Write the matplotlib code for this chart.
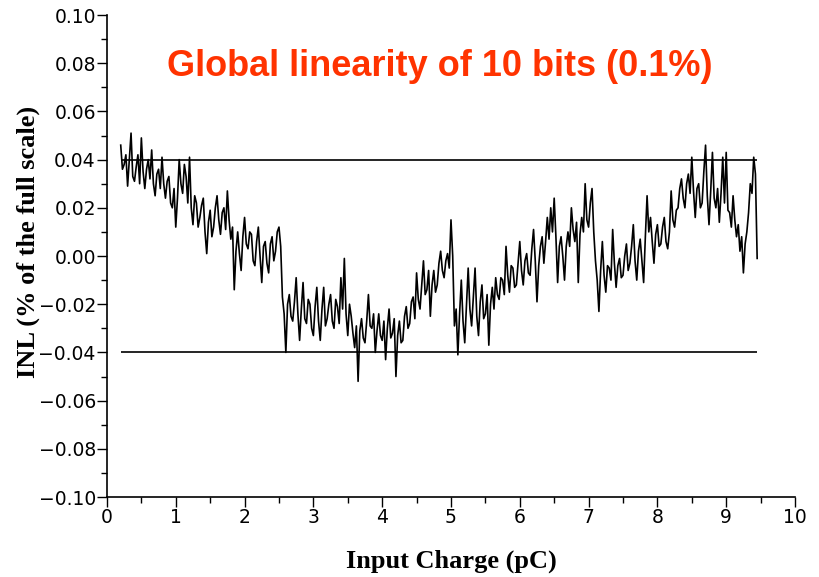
import numpy as np
import matplotlib
matplotlib.use("Agg")
import matplotlib.pyplot as plt
from matplotlib.ticker import MultipleLocator, FuncFormatter

# INL readings (% of full scale), one every 0.025 pC from 0.20 pC
charge_start = 0.20
charge_step = 0.025
inl = [
    0.046, 0.036, 0.038, 0.042, 0.029, 0.040, 0.051, 0.033, 0.031, 0.037,
    0.042, 0.030, 0.049, 0.035, 0.028, 0.036, 0.040, 0.032, 0.044, 0.030,
    0.025, 0.034, 0.036, 0.028, 0.041, 0.030, 0.024, 0.031, 0.033, 0.022,
    0.020, 0.028, 0.012, 0.024, 0.040, 0.030, 0.026, 0.038, 0.033, 0.022,
    0.041, 0.020, 0.013, 0.025, 0.022, 0.012, 0.016, 0.021, 0.024, 0.010,
    0.001, 0.014, 0.019, 0.008, 0.012, 0.020, 0.025, 0.015, 0.009, 0.018,
    0.020, 0.011, 0.027, 0.015, 0.007, 0.012, -0.014, 0.002, 0.010, 0.001,
    -0.006, 0.008, 0.016, 0.005, 0.003, 0.010, 0.009, -0.002, -0.004, 0.006,
    0.012, 0.000, -0.011, 0.004, 0.006, -0.003, -0.007, 0.005, 0.008, -0.002,
    0.002, 0.010, 0.012, 0.004, -0.017, -0.024, -0.040, -0.020, -0.016, -0.025,
    -0.027, -0.019, -0.009, -0.024, -0.035, -0.022, -0.011, -0.026, -0.028, -0.018,
    -0.020, -0.030, -0.033, -0.021, -0.013, -0.027, -0.035, -0.022, -0.013, -0.029,
    -0.026, -0.020, -0.016, -0.027, -0.030, -0.018, -0.021, -0.028, -0.009, -0.022,
    -0.001, -0.024, -0.033, -0.020, -0.025, -0.032, -0.038, -0.029, -0.052, -0.031,
    -0.026, -0.034, -0.036, -0.027, -0.016, -0.029, -0.030, -0.024, -0.040, -0.031,
    -0.024, -0.033, -0.035, -0.027, -0.043, -0.030, -0.022, -0.034, -0.032, -0.026,
    -0.050, -0.033, -0.027, -0.036, -0.035, -0.025, -0.021, -0.030, -0.028, -0.019,
    -0.017, -0.026, -0.007, -0.018, -0.022, -0.012, -0.002, -0.016, -0.014, -0.006,
    -0.025, -0.012, -0.006, -0.015, -0.012, -0.003, 0.002, -0.006, -0.009, -0.002,
    0.001, -0.005, 0.015, 0.000, -0.029, -0.022, -0.041, -0.024, -0.010, -0.027,
    -0.036, -0.020, -0.005, -0.022, -0.029, -0.017, -0.005, -0.025, -0.033, -0.019,
    -0.012, -0.026, -0.024, -0.016, -0.037, -0.020, -0.013, -0.022, -0.009, -0.016,
    -0.018, -0.009, -0.010, -0.016, 0.004, -0.008, -0.015, -0.004, -0.005, -0.013,
    -0.012, -0.003, 0.006, -0.006, -0.012, -0.002, 0.001, -0.007, -0.008, 0.003,
    0.011, -0.002, -0.019, -0.004, 0.004, 0.008, -0.003, 0.006, 0.016, 0.007,
    0.020, 0.010, 0.024, 0.008, -0.011, 0.004, 0.008, 0.000, -0.010, 0.004,
    0.010, 0.004, 0.020, 0.011, 0.006, 0.014, -0.011, 0.009, 0.016, 0.010,
    0.030, 0.015, 0.012, 0.022, 0.028, 0.010, -0.002, -0.010, -0.023, -0.006,
    0.006, -0.008, -0.015, -0.004, -0.005, -0.010, 0.011, -0.003, -0.013, -0.004,
    -0.001, -0.009, -0.008, 0.000, 0.005, -0.006, -0.003, 0.004, 0.013, -0.002,
    -0.010, 0.002, 0.007, -0.002, -0.011, 0.008, 0.025, 0.010, 0.016, 0.006,
    -0.003, 0.009, 0.013, 0.004, 0.005, 0.012, 0.016, 0.006, 0.003, 0.010,
    0.027, 0.015, 0.012, 0.019, 0.020, 0.028, 0.032, 0.024, 0.020, 0.030,
    0.034, 0.026, 0.041, 0.027, 0.016, 0.028, 0.030, 0.020, 0.022, 0.035,
    0.046, 0.025, 0.013, 0.027, 0.043, 0.024, 0.020, 0.028, 0.014, 0.026,
    0.041, 0.022, 0.043, 0.019, 0.018, 0.012, 0.025, 0.015, 0.008, 0.013,
    0.002, 0.008, -0.007, 0.005, 0.010, 0.018, 0.030, 0.026, 0.041, 0.034,
    -0.001,
]
charge = charge_start + charge_step * np.arange(len(inl))

limit = 0.04
limit_span = (0.2, 9.45)


def fmt_inl(v, pos):
    v = round(v, 3) + 0.0  # avoid "-0.00"
    return f"{v:.2f}".replace("-", "\u2212")


fig = plt.figure(figsize=(8.19, 5.77), dpi=100)
ax = fig.add_axes([0.1306, 0.1386, 0.8401, 0.8354])

ax.plot(charge, inl, color="black", lw=1.2)
ax.hlines([limit, -limit], limit_span[0], limit_span[1], color="black", lw=1.2)

ax.set_xlim(0, 10)
ax.set_ylim(-0.10, 0.10)
ax.xaxis.set_major_locator(MultipleLocator(1))
ax.xaxis.set_minor_locator(MultipleLocator(0.5))
ax.yaxis.set_major_locator(MultipleLocator(0.02))
ax.yaxis.set_minor_locator(MultipleLocator(0.01))
ax.yaxis.set_major_formatter(FuncFormatter(fmt_inl))
ax.tick_params(which="major", direction="out", length=7, width=1.0,
               labelsize=13.5, pad=1)
ax.tick_params(which="minor", direction="out", length=4, width=1.0)

ax.spines["top"].set_visible(False)
ax.spines["right"].set_visible(False)
ax.spines["left"].set_linewidth(1.2)
ax.spines["bottom"].set_linewidth(1.2)

ax.set_xlabel("Input Charge (pC)", family="Liberation Serif",
              fontweight="bold", fontsize=19, labelpad=16)
ax.set_ylabel("INL (% of the full scale)", family="Liberation Serif",
              fontweight="bold", fontsize=19)
ax.yaxis.set_label_coords(-0.098, 0.53)

fig.text(0.537, 0.885, "Global linearity of 10 bits (0.1%)",
         color="#FF3300", family="Liberation Sans", fontweight="bold",
         fontsize=26, ha="center", va="center")

fig.savefig("out.png", dpi=100)
